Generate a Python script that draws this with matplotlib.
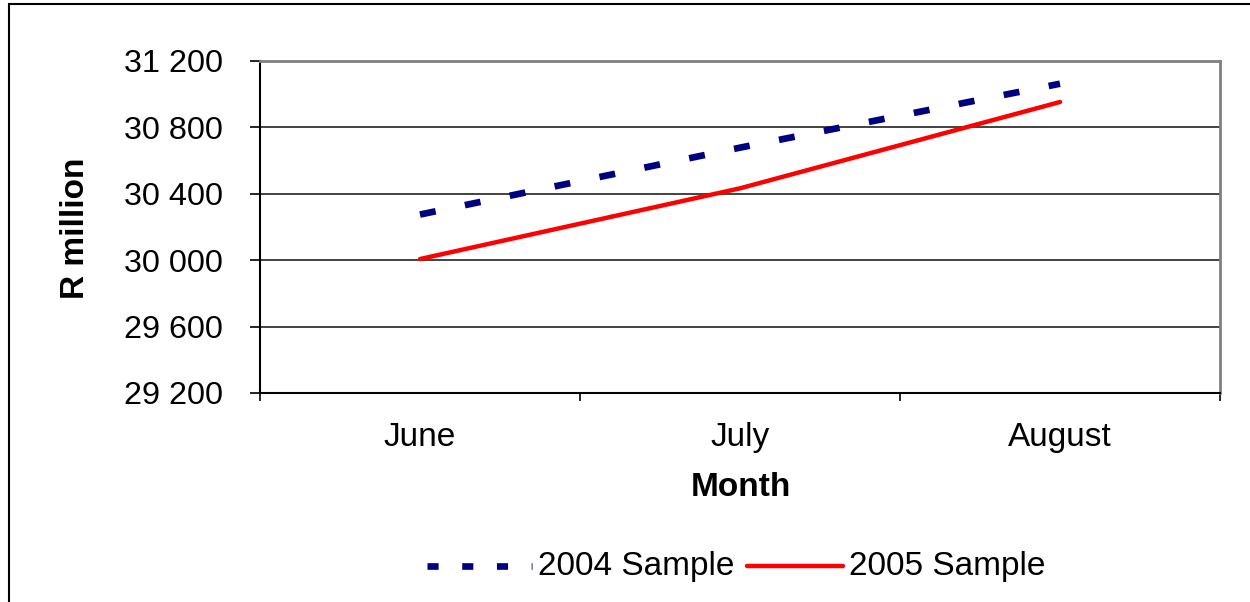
import matplotlib
matplotlib.use("Agg")
import matplotlib.pyplot as plt
from matplotlib.patches import Rectangle
from matplotlib.lines import Line2D

plt.rcParams['font.family'] = ['Liberation Sans', 'DejaVu Sans']
plt.rcParams['lines.scale_dashes'] = False

months = ["June", "July", "August"]
sample_2004 = [30275, 30678, 31063]
sample_2005 = [30007, 30433, 30953]
yticks = [29200, 29600, 30000, 30400, 30800, 31200]

W, H = 1250, 602
FS = 24
FSY = 23.3
fig = plt.figure(figsize=(W / 100, H / 100), dpi=100)
ax = fig.add_axes([260 / W, 1 - 393 / H, (1220 - 260) / W, (393 - 61) / H])

x = list(range(len(months)))
ax.plot(x, sample_2004, color='#000080', lw=4.8, dashes=(11.5, 21.5),
        solid_capstyle='butt', dash_capstyle='butt', label='2004 Sample', zorder=3)
ax.plot(x, sample_2005, color='#ff0000', lw=3.2, solid_capstyle='round',
        label='2005 Sample', zorder=3)

ax.set_xlim(-0.5, 2.5)
ax.set_ylim(29200, 31200)
ax.set_yticks(yticks)
ax.set_yticklabels([f"{v:,}".replace(",", " ") for v in yticks], fontsize=FSY)
ax.set_xticks(x)
ax.set_xticklabels(months, fontsize=FS)
ax.set_xticks([-0.5, 0.5, 1.5, 2.5], minor=True)
ax.tick_params(axis='x', which='major', length=0, pad=21)
ax.tick_params(axis='x', which='minor', length=6, width=1.2, color='black')
ax.tick_params(axis='y', length=7, width=1.2, pad=20)

ax.yaxis.grid(True, color='#222222', lw=1.2)
ax.set_axisbelow(True)
for s in ['top', 'right']:
    ax.spines[s].set_color('#808080')
    ax.spines[s].set_linewidth(2)
for s in ['left', 'bottom']:
    ax.spines[s].set_color('black')
    ax.spines[s].set_linewidth(1.5)

fig.text(75 / W, 1 - 228 / H, "R million", rotation=90, fontsize=FS,
         fontweight='bold', ha='center', va='center')
fig.text(741 / W, 1 - 488 / H, "Month", fontsize=FS, fontweight='bold',
         ha='center', va='center')

# legend drawn manually
ly = 1 - 566 / H
fig.add_artist(Line2D([427 / W, 532 / W], [ly, ly], transform=fig.transFigure,
                      color='#000080', lw=4.8, dashes=(8, 17), dash_capstyle='butt'))
fig.text(538 / W, 1 - 566 / H, "2004 Sample", fontsize=FS, ha='left', va='center')
fig.add_artist(Line2D([747 / W, 843 / W], [ly, ly], transform=fig.transFigure,
                      color='#ff0000', lw=3.2, solid_capstyle='round'))
fig.text(849 / W, 1 - 566 / H, "2005 Sample", fontsize=FS, ha='left', va='center')

fig.add_artist(Rectangle((9 / W, -0.05), 1.2, 1 - 4 / H + 0.05, transform=fig.transFigure,
                         fill=False, edgecolor='black', lw=1.5))

fig.savefig("out.png", dpi=100)
